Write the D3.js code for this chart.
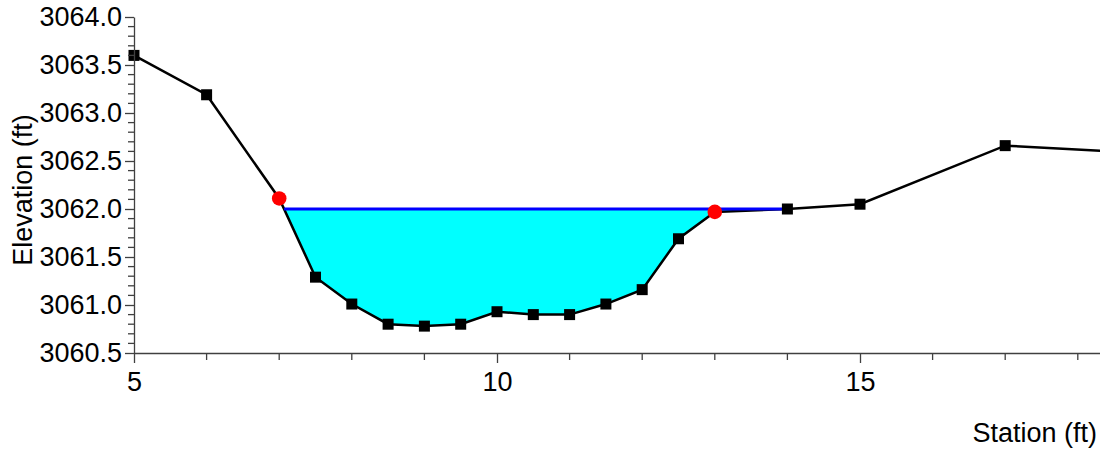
<!DOCTYPE html>
<html>
<head>
<meta charset="utf-8">
<script src="https://cdn.jsdelivr.net/npm/d3@7"></script>
<style>
  html, body { margin: 0; padding: 0; background: #fff; }
  svg { display: block; overflow: hidden; }
  text { font-family: "Liberation Sans", Arial, sans-serif; fill: #000; }
</style>
</head>
<body>
<svg id="chart" width="1100" height="453"></svg>
<script>
// Cross-section ground profile
const stations   = [5, 6, 7, 7.5, 8, 8.5, 9, 9.5, 10, 10.5, 11, 11.5, 12, 12.5, 13, 14, 15, 17, 20];
const elevations = [3063.60, 3063.19, 3062.11, 3061.29, 3061.01, 3060.80, 3060.78, 3060.80, 3060.93,
                    3060.90, 3060.90, 3061.01, 3061.16, 3061.69, 3061.97, 3062.00, 3062.05, 3062.66, 3062.54];
// Bank stations (drawn as red circles)
const bankStations = [7, 13];
// Water surface elevation
const waterSurface = 3062.0;
// Axis ticks
const yMajorTicks = [3060.5, 3061.0, 3061.5, 3062.0, 3062.5, 3063.0, 3063.5, 3064.0];
const xMajorTicks = [5, 10, 15];

const svg = d3.select("#chart");
const x = d3.scaleLinear().domain([5, 20]).range([134, 134 + 15 * 72.6]);
const y = d3.scaleLinear().domain([3060.5, 3064.0]).range([353, 17]);

const ground = stations.map((s, i) => ({ s, e: elevations[i] }));

// Find the wetted extent: where the ground dips below the water surface
let wet = [];
for (let i = 0; i < ground.length - 1; i++) {
  const a = ground[i], b = ground[i + 1];
  const aw = a.e < waterSurface, bw = b.e < waterSurface;
  if (!aw && bw) {
    const t = (a.e - waterSurface) / (a.e - b.e);
    wet.push({ s: a.s + t * (b.s - a.s), e: waterSurface });
  }
  if (bw) wet.push(b);
  if (aw && !bw) {
    const t = (waterSurface - a.e) / (b.e - a.e);
    wet.push({ s: a.s + t * (b.s - a.s), e: waterSurface });
  }
}
const wsLeft = wet[0].s, wsRight = wet[wet.length - 1].s;

// Water fill
const fillPts = wet.map(p => [x(p.s), y(p.e)]);
svg.append("path")
  .attr("d", d3.line()(fillPts) + "Z")
  .attr("fill", "#00ffff")
  .attr("stroke", "none");

// Ground line
svg.append("path")
  .datum(ground)
  .attr("d", d3.line().x(d => x(d.s)).y(d => y(d.e)))
  .attr("fill", "none")
  .attr("stroke", "#000")
  .attr("stroke-width", 2.5);

// Water surface line
svg.append("line")
  .attr("x1", x(wsLeft)).attr("x2", x(wsRight))
  .attr("y1", y(waterSurface)).attr("y2", y(waterSurface))
  .attr("stroke", "#0000ff")
  .attr("stroke-width", 2.8);

// Ground point markers
const sq = 11;
svg.selectAll("rect.pt")
  .data(ground.filter(d => !bankStations.includes(d.s)))
  .join("rect")
  .attr("class", "pt")
  .attr("x", d => x(d.s) - sq / 2)
  .attr("y", d => y(d.e) - sq / 2)
  .attr("width", sq).attr("height", sq)
  .attr("fill", "#000");

svg.selectAll("circle.bank")
  .data(ground.filter(d => bankStations.includes(d.s)))
  .join("circle")
  .attr("class", "bank")
  .attr("cx", d => x(d.s))
  .attr("cy", d => y(d.e))
  .attr("r", 7.3)
  .attr("fill", "#ff0000");

// Axes
const axisColor = "#404040";
const yMinor = d3.range(30605, 30641, 1).map(v => v / 10).filter(v => !yMajorTicks.some(m => Math.abs(m - v) < 1e-6));
const xMinor = d3.range(5, 21, 1).filter(v => !xMajorTicks.includes(v));

const yAxis = svg.append("g").attr("transform", `translate(${x(5)},0)`);
yAxis.call(d3.axisLeft(y).tickValues(yMajorTicks).tickFormat(d3.format(".1f")).tickSize(9).tickPadding(3).tickSizeOuter(0));
yAxis.append("g").selectAll("line").data(yMinor).join("line")
  .attr("x1", -6).attr("x2", 0).attr("y1", d => y(d)).attr("y2", d => y(d));

const xAxis = svg.append("g").attr("transform", `translate(0,${y(3060.5)})`);
xAxis.call(d3.axisBottom(x).tickValues(xMajorTicks).tickFormat(d3.format("d")).tickSize(10).tickPadding(9).tickSizeOuter(0));
xAxis.append("g").selectAll("line").data(xMinor).join("line")
  .attr("x1", d => x(d)).attr("x2", d => x(d)).attr("y1", 0).attr("y2", 7);

svg.selectAll(".domain, .tick line").attr("stroke", axisColor).attr("stroke-width", 1.3);
yAxis.selectAll("g > g > line").attr("stroke", axisColor).attr("stroke-width", 1.3);
xAxis.selectAll("g > g > line").attr("stroke", axisColor).attr("stroke-width", 1.3);
svg.selectAll(".tick text")
  .attr("font-family", "'Liberation Sans', Arial, sans-serif")
  .attr("font-size", 27)
  .attr("fill", "#000");

// Axis titles
svg.append("text")
  .attr("transform", "translate(32,190) rotate(-90)")
  .attr("text-anchor", "middle")
  .attr("font-size", 27)
  .text("Elevation (ft)");

svg.append("text")
  .attr("x", 1097).attr("y", 442)
  .attr("text-anchor", "end")
  .attr("font-size", 27)
  .text("Station (ft)");
</script>
</body>
</html>
